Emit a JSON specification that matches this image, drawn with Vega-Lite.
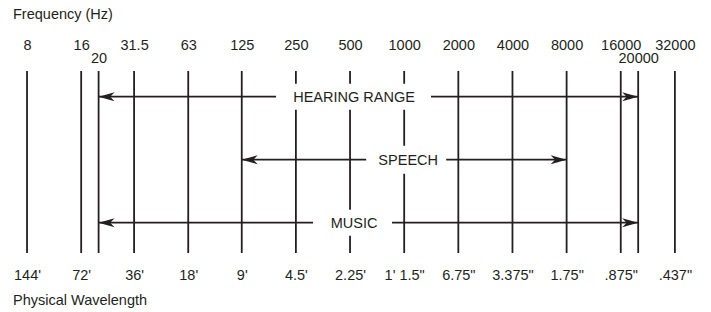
{
  "$schema": "https://vega.github.io/schema/vega-lite/v6.json",
  "width": 711,
  "height": 182,
  "autosize": {"type": "none"},
  "padding": {"left": 0, "top": 71, "right": 0, "bottom": 59},
  "background": "white",
  "config": {"view": {"stroke": null}, "font": "Liberation Sans"},
  "datasets": {
    "lines": [
      {"freq": 8, "wavelength": "144'"},
      {"freq": 16, "wavelength": "72'"},
      {"freq": 20, "wavelength": ""},
      {"freq": 31.5, "wavelength": "36'"},
      {"freq": 63, "wavelength": "18'"},
      {"freq": 125, "wavelength": "9'"},
      {"freq": 250, "wavelength": "4.5'"},
      {"freq": 500, "wavelength": "2.25'"},
      {"freq": 1000, "wavelength": "1' 1.5\""},
      {"freq": 2000, "wavelength": "6.75\""},
      {"freq": 4000, "wavelength": "3.375\""},
      {"freq": 8000, "wavelength": "1.75\""},
      {"freq": 16000, "wavelength": ".875\""},
      {"freq": 20000, "wavelength": ""},
      {"freq": 32000, "wavelength": ".437\""}
    ],
    "ranges": [
      {"label": "HEARING RANGE", "from": 20, "to": 20000, "labelAt": 500},
      {"label": "SPEECH", "from": 125, "to": 8000, "labelAt": 1000},
      {"label": "MUSIC", "from": 20, "to": 20000, "labelAt": 500}
    ]
  },
  "resolve": {"axis": {"x": "independent"}},
  "layer": [
    {
      "data": {"name": "lines"},
      "mark": {"type": "rule", "color": "#231f20", "strokeWidth": 1.8},
      "encoding": {
        "x": {
          "field": "freq",
          "type": "quantitative",
          "scale": {"type": "log", "base": 2, "domain": [5.66, 50800], "nice": false, "zero": false},
          "axis": {
            "orient": "top",
            "values": [8, 16, 20, 31.5, 63, 125, 250, 500, 1000, 2000, 4000, 8000, 16000, 20000, 32000],
            "labelExpr": "datum.value === 20 || datum.value === 20000 ? ['', '' + datum.value] : '' + datum.value",
            "labelLineHeight": 12.5,
            "grid": false, "ticks": false, "tickSize": 0, "domain": false,
            "labelOverlap": false, "labelFlush": false, "labelBound": false,
            "labelFont": "Liberation Sans", "labelFontSize": 14.5, "labelColor": "#231f20",
            "labelBaseline": "alphabetic", "labelPadding": 21.5,
            "title": "Frequency (Hz)",
            "titleFont": "Liberation Sans", "titleFontSize": 14.5, "titleFontWeight": "normal", "titleColor": "#231f20",
            "titleAlign": "left", "titleBaseline": "alphabetic", "titleX": 12.5, "titleY": -52.5, "titleAngle": 0
          }
        }
      }
    },
    {
      "data": {"name": "ranges"},
      "mark": {"type": "rule", "color": "#231f20", "strokeWidth": 1.8},
      "encoding": {
        "x": {
          "field": "from",
          "type": "quantitative",
          "scale": {"type": "log", "base": 2, "domain": [5.66, 50800], "nice": false, "zero": false},
          "axis": {
            "orient": "bottom",
            "values": [8, 16, 31.5, 63, 125, 250, 500, 1000, 2000, 4000, 8000, 16000, 32000],
            "labelExpr": "[\"144'\", \"72'\", \"36'\", \"18'\", \"9'\", \"4.5'\", \"2.25'\", '1\\' 1.5\"', '6.75\"', '3.375\"', '1.75\"', '.875\"', '.437\"'][indexof([8, 16, 31.5, 63, 125, 250, 500, 1000, 2000, 4000, 8000, 16000, 32000], datum.value)]",
            "grid": false, "ticks": false, "tickSize": 0, "domain": false,
            "labelOverlap": false, "labelFlush": false, "labelBound": false,
            "labelFont": "Liberation Sans", "labelFontSize": 14.5, "labelColor": "#231f20",
            "labelBaseline": "alphabetic", "labelPadding": 26,
            "title": "Physical Wavelength",
            "titleFont": "Liberation Sans", "titleFontSize": 14.5, "titleFontWeight": "normal", "titleColor": "#231f20",
            "titleAlign": "left", "titleBaseline": "alphabetic", "titleX": 12.5, "titleY": 51, "titleAngle": 0
          }
        },
        "x2": {"field": "to"},
        "y": {
          "field": "label",
          "type": "nominal",
          "scale": {"type": "point", "domain": ["HEARING RANGE", "SPEECH", "MUSIC"], "range": [25.7, 151.7], "padding": 0},
          "axis": null
        }
      }
    },
    {
      "data": {"name": "ranges"},
      "mark": {"type": "point", "filled": true, "fill": "white", "opacity": 1, "strokeWidth": 0, "size": 4},
      "encoding": {
        "x": {"field": "labelAt", "type": "quantitative", "axis": null},
        "y": {"field": "label", "type": "nominal", "axis": null},
        "shape": {
          "field": "label",
          "type": "nominal",
          "scale": {
            "domain": ["HEARING RANGE", "SPEECH", "MUSIC"],
            "range": ["M-74,-13H81V13H-74Z", "M-38,-14H42V14H-38Z", "M-37,-13H42V13H-37Z"]
          },
          "legend": null
        }
      }
    },
    {
      "data": {"name": "ranges"},
      "mark": {"type": "text", "font": "Liberation Sans", "fontSize": 14.5, "color": "#231f20", "align": "center", "baseline": "middle", "dx": 4, "dy": 1},
      "encoding": {
        "x": {"field": "labelAt", "type": "quantitative", "axis": null},
        "y": {"field": "label", "type": "nominal", "axis": null},
        "text": {"field": "label"}
      }
    },
    {
      "data": {"name": "ranges"},
      "mark": {"type": "point", "filled": true, "color": "#231f20", "opacity": 1, "strokeWidth": 0, "size": 4, "shape": "M0,0L16,-4.5L11.5,0L16,4.5Z"},
      "encoding": {
        "x": {"field": "from", "type": "quantitative", "axis": null},
        "y": {"field": "label", "type": "nominal", "axis": null}
      }
    },
    {
      "data": {"name": "ranges"},
      "mark": {"type": "point", "filled": true, "color": "#231f20", "opacity": 1, "strokeWidth": 0, "size": 4, "shape": "M0,0L-16,-4.5L-11.5,0L-16,4.5Z"},
      "encoding": {
        "x": {"field": "to", "type": "quantitative", "axis": null},
        "y": {"field": "label", "type": "nominal", "axis": null}
      }
    }
  ]
}
